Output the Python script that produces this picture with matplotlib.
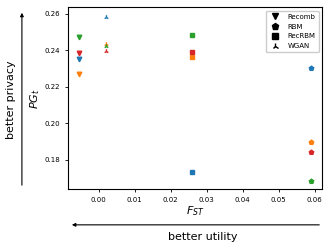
import numpy as np
import matplotlib.pyplot as plt

colors = ['tab:blue', 'tab:orange', 'tab:green', 'tab:red']

# (F_ST, PG_t) for each model, one value per colour
recomb_x = [-0.0055, -0.0055, -0.0055, -0.0055]
recomb_y = [0.235, 0.227, 0.247, 0.2385]
rbm_x = [0.059, 0.059, 0.059, 0.059]
rbm_y = [0.230, 0.190, 0.1686, 0.1845]
recrbm_x = [0.0258, 0.0258, 0.0258, 0.0258]
recrbm_y = [0.1735, 0.2365, 0.2485, 0.239]
wgan_x = [0.002, 0.002, 0.002, 0.002]
wgan_y = [0.258, 0.2435, 0.242, 0.2395]

models = [('Recomb', 'v', recomb_x, recomb_y),
          ('RBM', 'p', rbm_x, rbm_y),
          ('RecRBM', 's', recrbm_x, recrbm_y),
          ('WGAN', '2', wgan_x, wgan_y)]

fig = plt.figure(figsize=(3.32, 2.49), dpi=100)
ax = fig.add_axes([0.205, 0.24, 0.765, 0.73])

for name, m, xs, ys in models:
    for x, y, c in zip(xs, ys, colors):
        ax.plot(x, y, m, color=c, ms=3.3, mew=1)
    ax.plot([], [], m, color='k', ms=4.5, label=name)

ax.set_xlim(-0.0085, 0.062)
ax.set_ylim(0.164, 0.2633)
ax.set_xticks([0.0, 0.01, 0.02, 0.03, 0.04, 0.05, 0.06])
ax.set_yticks([0.18, 0.20, 0.22, 0.24, 0.26])
ax.tick_params(labelsize=5, length=2, width=0.6)
for s in ax.spines.values():
    s.set_linewidth(0.8)
ax.set_xlabel('$F_{ST}$', fontsize=8, labelpad=1)
ax.set_ylabel('$PG_t$', fontsize=8, labelpad=2)
ax.legend(loc='upper right', fontsize=5, handletextpad=0.8, borderpad=0.4,
          labelspacing=0.55, framealpha=1)

fig.text(0.033, 0.6, 'better privacy', rotation=90, fontsize=8,
         ha='center', va='center')
fig.add_artist(plt.Annotation('', xy=(0.066, 0.96), xytext=(0.066, 0.245),
                              xycoords='figure fraction',
                              arrowprops=dict(arrowstyle='-|>', lw=0.8,
                                              color='k', mutation_scale=5)))
fig.text(0.61, 0.05, 'better utility', fontsize=8, ha='center', va='center')
fig.add_artist(plt.Annotation('', xy=(0.208, 0.097), xytext=(0.97, 0.097),
                              xycoords='figure fraction',
                              arrowprops=dict(arrowstyle='-|>', lw=0.8,
                                              color='k', mutation_scale=5)))

fig.savefig('out.png', dpi=100)
